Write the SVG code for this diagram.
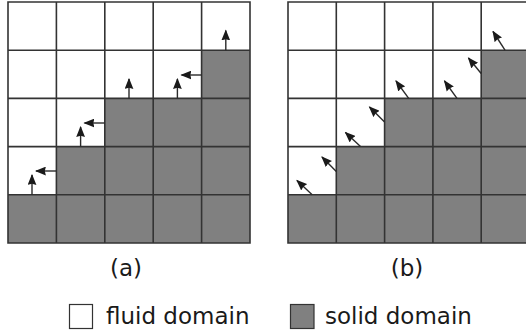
<svg xmlns="http://www.w3.org/2000/svg" width="526" height="335" viewBox="0 0 526 335">
<defs>
<style>
.fluid{fill:#ffffff}
.solid{fill:#808080}
.grid{fill:none;stroke:#333333;stroke-width:1.6}
.arr{fill:none;stroke:#2a2a2a;stroke-width:1.4;marker-end:url(#ah)}
.lbl{font-family:"DejaVu Sans",sans-serif;font-size:23px;fill:#1a1a1a}
.key{stroke:#333333;stroke-width:1.2}
</style>
<marker id="ah" viewBox="0 0 10 8" refX="9" refY="4" markerWidth="11" markerHeight="9" markerUnits="userSpaceOnUse" orient="auto">
<path d="M0,0 L10,4 L0,8 L1,4 z" fill="#1a1a1a"/>
</marker>
</defs>

<g id="grid-a">
<rect class="fluid" x="8" y="2" width="242" height="241"/>
<path class="solid" d="M8,194.8 H56.4 V146.6 H104.8 V98.4 H201.6 V50.2 H250 V243 H8 Z"/>
<path class="grid" d="M8,2 H250 V243 H8 Z M56.4,2 V243 M104.8,2 V243 M153.2,2 V243 M201.6,2 V243 M8,50.2 H250 M8,98.4 H250 M8,146.6 H250 M8,194.8 H250"/>
</g>

<g id="grid-b">
<rect class="fluid" x="288" y="2" width="242" height="241"/>
<path class="solid" d="M288,194.8 H336.3 V146.6 H384.6 V98.4 H481.2 V50.2 H530 V243 H288 Z"/>
<path class="grid" d="M288,2 H530 V243 H288 Z M336.3,2 V243 M384.6,2 V243 M432.9,2 V243 M481.2,2 V243 M288,50.2 H530 M288,98.4 H530 M288,146.6 H530 M288,194.8 H530"/>
</g>

<g id="connectors">
<!-- (a) -->
<path class="arr" d="M32,194.8 V175"/>
<path class="arr" d="M56.4,171 H36"/>
<path class="arr" d="M80.6,146.6 V127"/>
<path class="arr" d="M104.8,123 H84.5"/>
<path class="arr" d="M129,98.4 V79"/>
<path class="arr" d="M177.4,98.4 V79"/>
<path class="arr" d="M201.6,75 H181.5"/>
<path class="arr" d="M225.8,50.2 V30.5"/>
<!-- (b) -->
<path class="arr" d="M312.2,194.8 L297,180.5"/>
<path class="arr" d="M336.3,171.5 L322,157"/>
<path class="arr" d="M360.5,146.6 L345.5,132.5"/>
<path class="arr" d="M384.6,122 L369.5,107"/>
<path class="arr" d="M408.7,98.4 L396,81"/>
<path class="arr" d="M457,98.4 L444.5,81"/>
<path class="arr" d="M481.2,73.5 L468.5,58"/>
<path class="arr" d="M505,50.2 L493,31.5"/>
</g>

<g id="labels">
<text class="lbl" x="126" y="276" text-anchor="middle">(a)</text>
<text class="lbl" x="407" y="276" text-anchor="middle">(b)</text>
</g>

<g id="legend-fluid">
<rect class="key" x="69.5" y="304.5" width="23" height="24" fill="#ffffff"/>
<text class="lbl" x="106" y="323.5">fluid domain</text>
</g>
<g id="legend-solid">
<rect class="key" x="290.5" y="304.5" width="23.5" height="24" fill="#808080"/>
<text class="lbl" x="325" y="323.5">solid domain</text>
</g>
</svg>
